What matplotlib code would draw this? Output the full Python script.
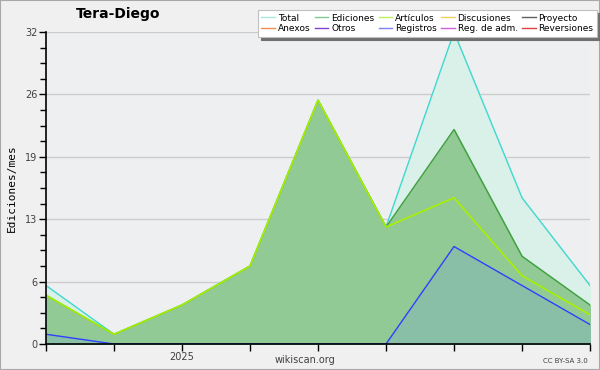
import matplotlib
matplotlib.use("Agg")
import matplotlib.pyplot as plt
from matplotlib.lines import Line2D
from matplotlib.patches import Rectangle

months = ["2024-11", "2024-12", "2025-01", "2025-02", "2025-03", "2025-04", "2025-05", "2025-06", "2025-07"]
xtick_labels = ["", "", "2025", "", "", "", "", "", ""]
total = [6, 1, 4, 8, 25, 12, 32, 15, 6]
ediciones = [5, 1, 4, 8, 25, 12, 22, 9, 4]
articulos = [5, 1, 4, 8, 25, 12, 15, 7, 3]
registros = [1, 0, 0, 0, 0, 0, 10, 6, 2]
ytick_pos = [0, 6.4, 12.8, 19.2, 25.6, 32]
ytick_labels = ["0", "6", "13", "19", "26", "32"]

legend_names = ["Total", "Ediciones", "Artículos", "Discusiones", "Proyecto",
                "Anexos", "Otros", "Registros", "Reg. de adm.", "Reversiones"]
legend_colors = ["#a8e8e0", "#80c890", "#c0f060", "#f0d060", "#606060",
                 "#f09050", "#8040d0", "#8080f0", "#d060e0", "#e04040"]

fig = plt.figure(figsize=(6, 3.7), dpi=100, facecolor="#f0f0f0")
fig.patches.append(Rectangle((0, 0), 1, 1, transform=fig.transFigure, fill=False,
                             edgecolor="#a8a8a8", linewidth=1.5))
ax = fig.add_axes([46/600, 26/370, 544/600, 312/370])
ax.set_facecolor("#eeeff1")
x = list(range(len(months)))

ax.fill_between(x, total, 0, color="#d9f1e8", zorder=1)
ax.plot(x, total, color="#40d8d0", lw=1, zorder=2)
ax.fill_between(x, ediciones, 0, color="#92ca96", zorder=3)
ax.plot(x, ediciones, color="#40a040", lw=1, zorder=4)
ax.plot(x, articulos, color="#a8f000", lw=1.2, zorder=5)
ax.fill_between(x, registros, 0, color="#88bfa6", zorder=6)
ax.plot(x, registros, color="#3040ff", lw=1, zorder=7)

ax.set_xlim(0, len(months) - 1)
ax.set_ylim(0, 32)
ax.set_xticks(x)
ax.set_xticklabels(xtick_labels)
ax.set_yticks(ytick_pos)
ax.set_yticklabels(ytick_labels)
ax.set_yticks([i * 1.6 for i in range(21)], minor=True)
ax.tick_params(axis="y", which="minor", length=4, width=1, direction="out")
ax.tick_params(axis="both", which="major", length=5, width=1, direction="out",
               labelsize=7, labelcolor="#404040", pad=1)
ax.yaxis.grid(True, color="#cccccc", lw=1, zorder=0)
ax.set_axisbelow(True)
for s in ["top", "right"]:
    ax.spines[s].set_visible(False)
for s in ["left", "bottom"]:
    ax.spines[s].set_linewidth(1.2)
    ax.spines[s].set_zorder(10)

ax.set_ylabel("Ediciones/mes", family="DejaVu Sans Mono", fontsize=8, labelpad=6)

fig.text(118/600, 1 - 14/370, "Tera-Diego", ha="center", va="center",
         fontsize=10, fontweight="bold")
fig.text(305/600, 1 - 360/370, "wikiscan.org", ha="center", va="center",
         fontsize=7, color="#404040")
fig.text(588/600, 1 - 361/370, "CC BY-SA 3.0", ha="right", va="center",
         fontsize=5, color="#404040")

order = [0, 5, 1, 6, 2, 7, 3, 8, 4, 9]
handles = [Line2D([], [], color=legend_colors[i], lw=1) for i in order]
labels = [legend_names[i] for i in order]
leg = fig.legend(handles, labels, ncol=5, loc="upper right",
                 bbox_to_anchor=(597/600, 1 - 10/370), fontsize=6.5,
                 frameon=True, fancybox=False, shadow={"color": "#707070", "alpha": 1},
                 framealpha=1,
                 edgecolor="#c0c0c0", handlelength=1.5, handletextpad=0.3,
                 columnspacing=0.5, labelspacing=0.2, borderpad=0.4,
                 borderaxespad=0)
leg.get_frame().set_linewidth(0.8)

fig.savefig("out.png", dpi=100, facecolor=fig.get_facecolor())
